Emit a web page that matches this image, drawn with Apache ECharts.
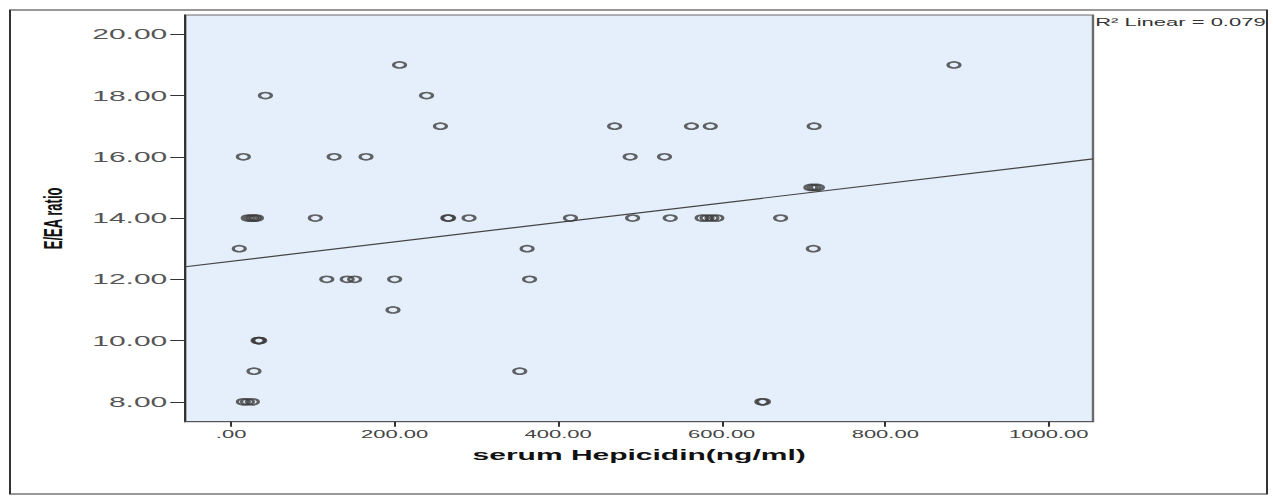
<!DOCTYPE html>
<html>
<head>
<meta charset="utf-8">
<script src="https://cdn.jsdelivr.net/npm/echarts@6/dist/echarts.min.js"></script>
<style>
html,body{margin:0;padding:0;background:#fff;overflow:hidden;}
#wrap{width:1273px;height:496px;overflow:hidden;position:relative;}
#chart{width:636.5px;height:496px;transform:scaleX(2);transform-origin:0 0;position:absolute;left:0;top:0;}
</style>
</head>
<body>
<div id="wrap"><div id="chart"></div></div>
<script>
// Data
var hepcidin = [206, 884, 42, 239, 256, 469, 563, 586, 713, 15, 126, 165, 488, 530,
  709, 713, 717, 21, 25, 28, 31, 103, 265, 266, 291, 415, 491, 537, 576, 582, 588, 594, 672,
  10, 362, 712, 117, 142, 151, 200, 365, 198, 33, 34, 35, 28, 353, 15, 20, 26, 649, 651];
var eaRatio = [19, 19, 18, 18, 17, 17, 17, 17, 17, 16, 16, 16, 16, 16,
  15, 15, 15, 14, 14, 14, 14, 14, 14, 14, 14, 14, 14, 14, 14, 14, 14, 14, 14,
  13, 13, 13, 12, 12, 12, 12, 12, 11, 10, 10, 10, 9, 9, 8, 8, 8, 8, 8];
// Fit line end points
var fitX = [-56, 1054];
var fitY = [12.41, 15.93];
var xTicks = [0, 200, 400, 600, 800, 1000];
var yTicks = [8, 10, 12, 14, 16, 18, 20];
var xTitle = 'serum Hepicidin(ng/ml)';
var yTitle = 'E/EA ratio';
var r2Label = 'R\u00b2 Linear = 0.079';

var points = hepcidin.map(function (v, i) { return [v, eaRatio[i]]; });
var fitLine = fitX.map(function (v, i) { return [v, fitY[i]]; });

var chart = echarts.init(document.getElementById('chart'), null, {renderer: 'svg', width: 636.5, height: 496});
var FONT = '"Liberation Sans", Arial, sans-serif';
chart.setOption({
  animation: false,
  backgroundColor: '#ffffff',
  grid: {
    left: 92.65, top: 15, width: 453.85, height: 406.7,
    show: true, backgroundColor: '#e4effb', borderColor: '#6a6a6a', borderWidth: 1.2
  },
  xAxis: {
    type: 'value', min: -56, max: 1054,
    name: xTitle, nameLocation: 'middle', nameGap: 26,
    nameTextStyle: {fontFamily: FONT, fontSize: 15, fontWeight: 'bold', color: '#111'},
    splitLine: {show: false},
    axisLine: {show: true, onZero: false, lineStyle: {color: '#555', width: 1.2}},
    axisTick: {show: true, length: 5, customValues: xTicks, lineStyle: {color: '#333', width: 1}},
    axisLabel: {
      customValues: xTicks, margin: 7, fontFamily: FONT, fontSize: 11, color: '#444',
      formatter: function (v) { return v === 0 ? '.00' : v.toFixed(2); }
    }
  },
  yAxis: {
    type: 'value', min: 7.35, max: 20.63,
    name: yTitle, nameLocation: 'middle', nameGap: 60,
    nameTextStyle: {fontFamily: FONT, fontSize: 13, fontWeight: 'bold', color: '#111'},
    splitLine: {show: false},
    axisLine: {show: true, onZero: false, lineStyle: {color: '#333', width: 1}},
    axisTick: {show: true, length: 7.5, customValues: yTicks, lineStyle: {color: '#333', width: 1}},
    axisLabel: {
      customValues: yTicks, margin: 9, fontFamily: FONT, fontSize: 15, color: '#555',
      formatter: function (v) { return v.toFixed(2); }
    }
  },
  series: [
    {
      type: 'scatter', data: points, symbol: 'circle', symbolSize: 6,
      itemStyle: {color: 'rgba(0,0,0,0)', borderColor: '#3c3c3c', borderWidth: 1.6},
      z: 3
    },
    {
      type: 'line', data: fitLine, symbol: 'none', silent: true,
      lineStyle: {color: '#444', width: 1.2}, z: 2
    }
  ],
  graphic: [
    {type: 'rect', shape: {x: 5, y: 10, width: 628.5, height: 484},
     style: {fill: 'none', stroke: '#333', lineWidth: 1}, silent: true},
    {type: 'text', x: 547.6, y: 17,
     style: {text: r2Label, fontFamily: FONT, fontSize: 11, fill: '#333'}}
  ]
});
</script>
</body>
</html>
